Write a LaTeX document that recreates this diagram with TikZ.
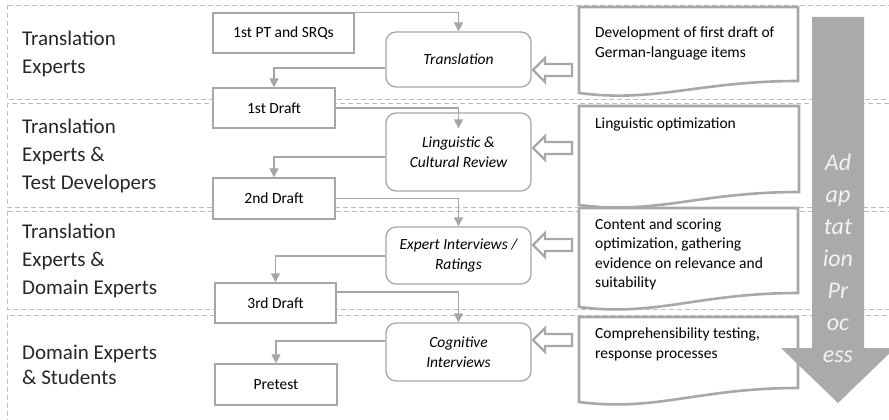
\documentclass[tikz,border=0pt]{standalone}
\usepackage{fontspec}
\setmainfont{Carlito}
\usetikzlibrary{arrows.meta,calc}
\definecolor{lgray}{RGB}{166,166,166}
\definecolor{bandgray}{RGB}{190,190,190}
\definecolor{docgray}{RGB}{168,168,170}
\definecolor{bigarrow}{RGB}{170,170,173}
\definecolor{labeltext}{RGB}{38,38,38}
\begin{document}
\begin{tikzpicture}[x=1pt,y=-1pt,
  band/.style={draw=bandgray, line width=0.9pt, dash pattern=on 5pt off 3pt},
  lane/.style={anchor=west, align=left, text=labeltext, inner sep=0pt, font=\fontsize{21}{28}\selectfont},
  stagebox/.style={draw=lgray, line width=1.3pt, fill=white, text=black, inner sep=0pt, font=\fontsize{15.5}{20}\selectfont},
  proc/.style={stagebox, rounded corners=10pt, align=center, font=\fontsize{15.5}{20}\selectfont\itshape},
  conn/.style={draw=lgray, line width=1.3pt, -{Triangle[width=9pt,length=9pt]}},
  docshape/.style={draw=docgray, line width=2.6pt, fill=white, line join=miter},
  doctext/.style={anchor=west, align=left, text=black, inner sep=0pt, font=\fontsize{15.5}{19.5}\selectfont},
  hollow/.style={draw=docgray, line width=2.4pt, fill=white, line join=miter}
]
\useasboundingbox (0,0) rectangle (889,420);
\clip (0,0) rectangle (889,420);

% swim-lane bands
\draw[band] (7,5) rectangle (900,99);
\draw[band] (7,103) rectangle (900,207);
\draw[band] (7,211) rectangle (900,309);
\draw[band] (7,315) rectangle (900,430);

% lane labels
\node[lane] (l1) at (22,54) {Translation\\Experts};
\node[lane] (l2) at (22,155.5) {Translation\\Experts \&\\Test Developers};
\node[lane] (l3) at (22,260.5) {Translation\\Experts \&\\Domain Experts};
\node[lane, font=\fontsize{21}{25}\selectfont] (l4) at (22,365) {Domain Experts\\\& Students};

% stage boxes
\node[stagebox, minimum width=141pt, minimum height=40pt] (pt) at (283.5,33) {1st PT and SRQs};
\node[stagebox, minimum width=122pt, minimum height=40pt] (d1) at (274,108) {1st Draft};
\node[stagebox, minimum width=122pt, minimum height=41pt] (d2) at (274,198.5) {2nd Draft};
\node[stagebox, minimum width=121pt, minimum height=40pt] (d3) at (275.5,303) {3rd Draft};
\node[stagebox, minimum width=122pt, minimum height=41pt] (pre) at (276,384.5) {Pretest};

% process boxes
\node[proc, minimum width=145pt, minimum height=55pt] (trans) at (458.5,59.5) {Translation};
\node[proc, minimum width=145pt, minimum height=78pt] (ling) at (458.5,152) {Linguistic \&\\Cultural Review};
\node[proc, minimum width=145pt, minimum height=57pt] (expert) at (458.5,255.5) {Expert Interviews /\\Ratings};
\node[proc, minimum width=145pt, minimum height=58pt] (cog) at (458.5,352) {Cognitive\\Interviews};

% connectors forward
\draw[conn] (pt.north east) -| (trans.north);
\draw[conn] (d1.east) -| ($(ling.north)+(0,16)$);
\draw[conn] (d2.east) -| (expert.north);
\draw[conn] ($(d3.east)+(0,-11)$) -| (cog.north);
% connectors back
\draw[conn] ($(trans.west)+(0,8.5)$) -| (d1.north);
\draw[conn] ($(ling.west)+(0,5)$) -| (d2.north);
\draw[conn] ($(expert.west)+(0,0.5)$) -| (d3.north);
\draw[conn] ($(cog.west)+(0,-11)$) -| (pre.north);

% document shapes
\draw[docshape] (579,7) -- (798,7) -- (798,81) .. controls (699,81) and (656,103) .. (579,93) -- cycle;
\draw[docshape] (579,106) -- (799,106) -- (799,192) .. controls (700,192) and (656,215) .. (579,205) -- cycle;
\draw[docshape] (579,208) -- (798,208) -- (798,293) .. controls (699,293) and (656,317) .. (579,307) -- cycle;
\draw[docshape] (579,317) -- (798,317) -- (798,388) .. controls (699,388) and (656,412) .. (579,402) -- cycle;

\node[doctext] (t1) at (595,43.5) {Development of first draft of\\German-language items};
\node[doctext] (t2) at (595,124) {Linguistic optimization};
\node[doctext] (t3) at (595,254.5) {Content and scoring\\optimization, gathering\\evidence on relevance and\\suitability};
\node[doctext] (t4) at (595,344.5) {Comprehensibility testing,\\response processes};

% hollow block arrows
\foreach \c in {70,148,245,340}{
  \draw[hollow] (533,\c) -- (545,\c-12) -- (545,\c-6) -- (572,\c-6) -- (572,\c+6) -- (545,\c+6) -- (545,\c+12) -- cycle;
}

% big process arrow
\fill[bigarrow] (812,17) -- (864,17) -- (864,348) -- (895,348) -- (838,403) -- (781,348) -- (812,348) -- cycle;
\node[align=center, text=white!95!black, inner sep=0pt, font=\fontsize{24}{32}\selectfont\itshape] (adapt) at (838,258) {Ad\\ap\\tat\\ion\\Pr\\oc\\ess};
\end{tikzpicture}
\end{document}
